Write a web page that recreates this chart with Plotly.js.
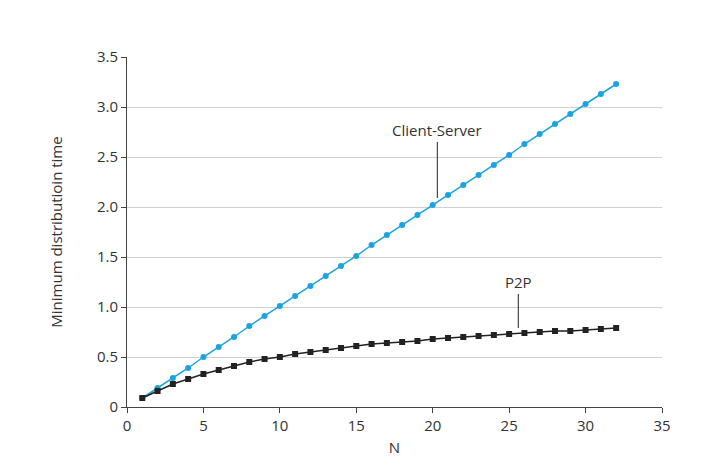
<!DOCTYPE html>
<html>
<head>
<script src="https://cdn.plot.ly/plotly-3.0.1.min.js"></script>
<style>body{margin:0}#chart{width:709px;height:468px}</style>
</head>
<body>
<div id="chart"></div>
<script>
var n = [1,2,3,4,5,6,7,8,9,10,11,12,13,14,15,16,17,18,19,20,21,22,23,24,25,26,27,28,29,30,31,32];
var clientServer = [0.09,0.19,0.29,0.39,0.5,0.6,0.7,0.81,0.91,1.01,1.11,1.21,1.31,1.41,1.51,1.62,1.72,1.82,1.92,2.02,2.12,2.22,2.32,2.42,2.52,2.63,2.73,2.83,2.93,3.03,3.13,3.23];
var p2p = [0.09,0.16,0.23,0.28,0.33,0.37,0.41,0.45,0.48,0.5,0.53,0.55,0.57,0.59,0.61,0.63,0.64,0.65,0.66,0.68,0.69,0.70,0.71,0.72,0.73,0.74,0.75,0.76,0.76,0.77,0.78,0.79];
var yTicks = [0,0.5,1,1.5,2,2.5,3,3.5];
var yLabels = ['0','0.5','1.0','1.5','2.0','2.5','3.0','3.5'];

var font = {family: 'Open Sans, sans-serif', size: 15, color: '#333'};
var data = [
  {x: n, y: clientServer, name: 'Client-Server', mode: 'lines+markers',
   line: {color: '#1aa3e0', width: 1.5}, marker: {color: '#1aa3e0', size: 6, symbol: 'circle'}},
  {x: n, y: p2p, name: 'P2P', mode: 'lines+markers',
   line: {color: '#222', width: 1.5}, marker: {color: '#222', size: 6, symbol: 'square'}}
];
var layout = {
  width: 709, height: 468,
  margin: {l: 127, r: 47, t: 57, b: 61},
  showlegend: false,
  paper_bgcolor: '#fff', plot_bgcolor: '#fff',
  font: font,
  xaxis: {range: [0, 35], tickvals: [0,5,10,15,20,25,30,35], showgrid: false, zeroline: false,
          showline: true, linecolor: '#444', ticks: 'outside', ticklen: 5, tickcolor: '#444',
          title: {text: 'N', font: font, standoff: 8}},
  yaxis: {range: [0, 3.5], tickvals: yTicks, ticktext: yLabels, showgrid: true, gridcolor: '#d0d0d0',
          zeroline: false, showline: true, linecolor: '#444', ticks: 'outside', ticklen: 5, tickcolor: '#444',
          title: {text: 'Minimum distributioin time', font: font, standoff: 30}},
  annotations: [
    {x: 20.3, y: 2.09, ax: 20.3, ay: 2.65, axref: 'x', ayref: 'y', text: 'Client-Server',
     showarrow: true, arrowhead: 0, arrowwidth: 1, arrowcolor: '#222', font: font, yanchor: 'bottom'},
    {x: 25.6, y: 0.79, ax: 25.6, ay: 1.13, axref: 'x', ayref: 'y', text: 'P2P',
     showarrow: true, arrowhead: 0, arrowwidth: 1, arrowcolor: '#222', font: font, yanchor: 'bottom'}
  ]
};
Plotly.newPlot('chart', data, layout, {displayModeBar: false});
</script>
</body>
</html>
